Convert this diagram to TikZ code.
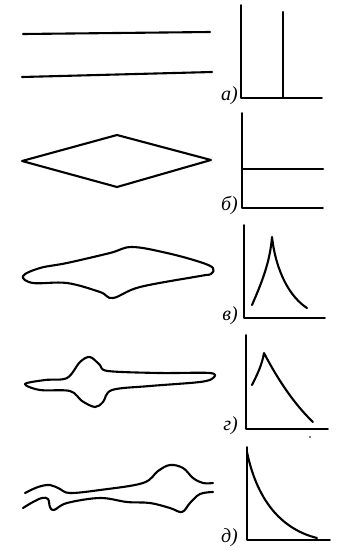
\documentclass[tikz,border=0pt]{standalone}
\usepackage{fontspec}
\newfontfamily\cyr{Liberation Serif}
\begin{document}
\begin{tikzpicture}[x=1pt,y=-1pt,line cap=round,line join=round,
 ax/.style={line width=1.7pt},
 cv/.style={line width=2.1pt},
 lbl/.style={font=\cyr\itshape\fontsize{20}{20}\selectfont,anchor=base east,inner sep=0pt}]
\useasboundingbox (0,0) rectangle (337,550);
% a) two parallel walls, single spike
\draw[cv] (23,34) -- (210,32);
\draw[cv] (22,77) -- (212,72);
\draw[ax] (241,5) -- (241,98) -- (322,98);
\draw[cv] (283,12) -- (283,98);
\node[lbl] (la) at (238,100) {а)};
% b) diamond, flat level
\draw[cv] (22,161) -- (117,135) -- (211,160) -- (117,187) -- cycle;
\draw[ax] (242,113) -- (242,208) -- (323,208);
\draw[cv] (242,169) -- (323,169);
\node[lbl] (lb) at (238,210) {б)};
% c) blob with bulge, cusp
\draw[cv] plot[smooth cycle,tension=0.6] coordinates {(23,276) (40,268) (67,263) (110,253) (132,247)
 (167,253) (200,262) (213,268) (211,274) (200,276) (140,287) (113,298) (100,292) (67,283) (33,283)};
\draw[ax] (244,225) -- (244,318) -- (325,318);
\draw[cv] (252,305) .. controls (262,282) and (270,262) .. (272,237)
 .. controls (276,272) and (290,297) .. (307,308);
\node[lbl] (lc) at (238,320) {в)};
% d) elongated blob, skewed peak
\draw[cv] plot[smooth cycle,tension=0.55] coordinates {(25,384) (45,380) (67,378) (80,362) (90,357) (100,365)
 (108,371) (160,373) (210,373) (213,378) (200,382) (150,386) (112,390) (103,402) (95,407) (82,401)
 (70,391) (40,390)};
\draw[ax] (246,335) -- (246,429) -- (328,429);
\draw[cv] (252,385) .. controls (257,375) and (262,365) .. (264,353)
 .. controls (278,380) and (295,405) .. (313,422);
\fill (310,437) circle (0.9pt);
\node[lbl] (ld) at (238,430) {г)};
% e) irregular channel, decay
\draw[cv] plot[smooth,tension=0.6] coordinates {(25,493) (38,487) (50,485) (60,489) (70,493) (100,490)
 (143,483) (158,471) (170,465) (183,468) (193,478) (203,483) (213,483)};
\draw[cv] plot[smooth,tension=0.6] coordinates {(23,508) (33,502) (42,498) (48,499) (50,507) (54,510)
 (67,503) (100,498) (127,502) (150,503) (170,508) (182,512) (190,503) (200,494) (213,492)};
\draw[ax] (247,447) -- (247,540) -- (330,540);
\draw[cv] (247,452) .. controls (258,505) and (285,530) .. (317,538);
\node[lbl] (le) at (238,542) {д)};
\end{tikzpicture}
\end{document}
